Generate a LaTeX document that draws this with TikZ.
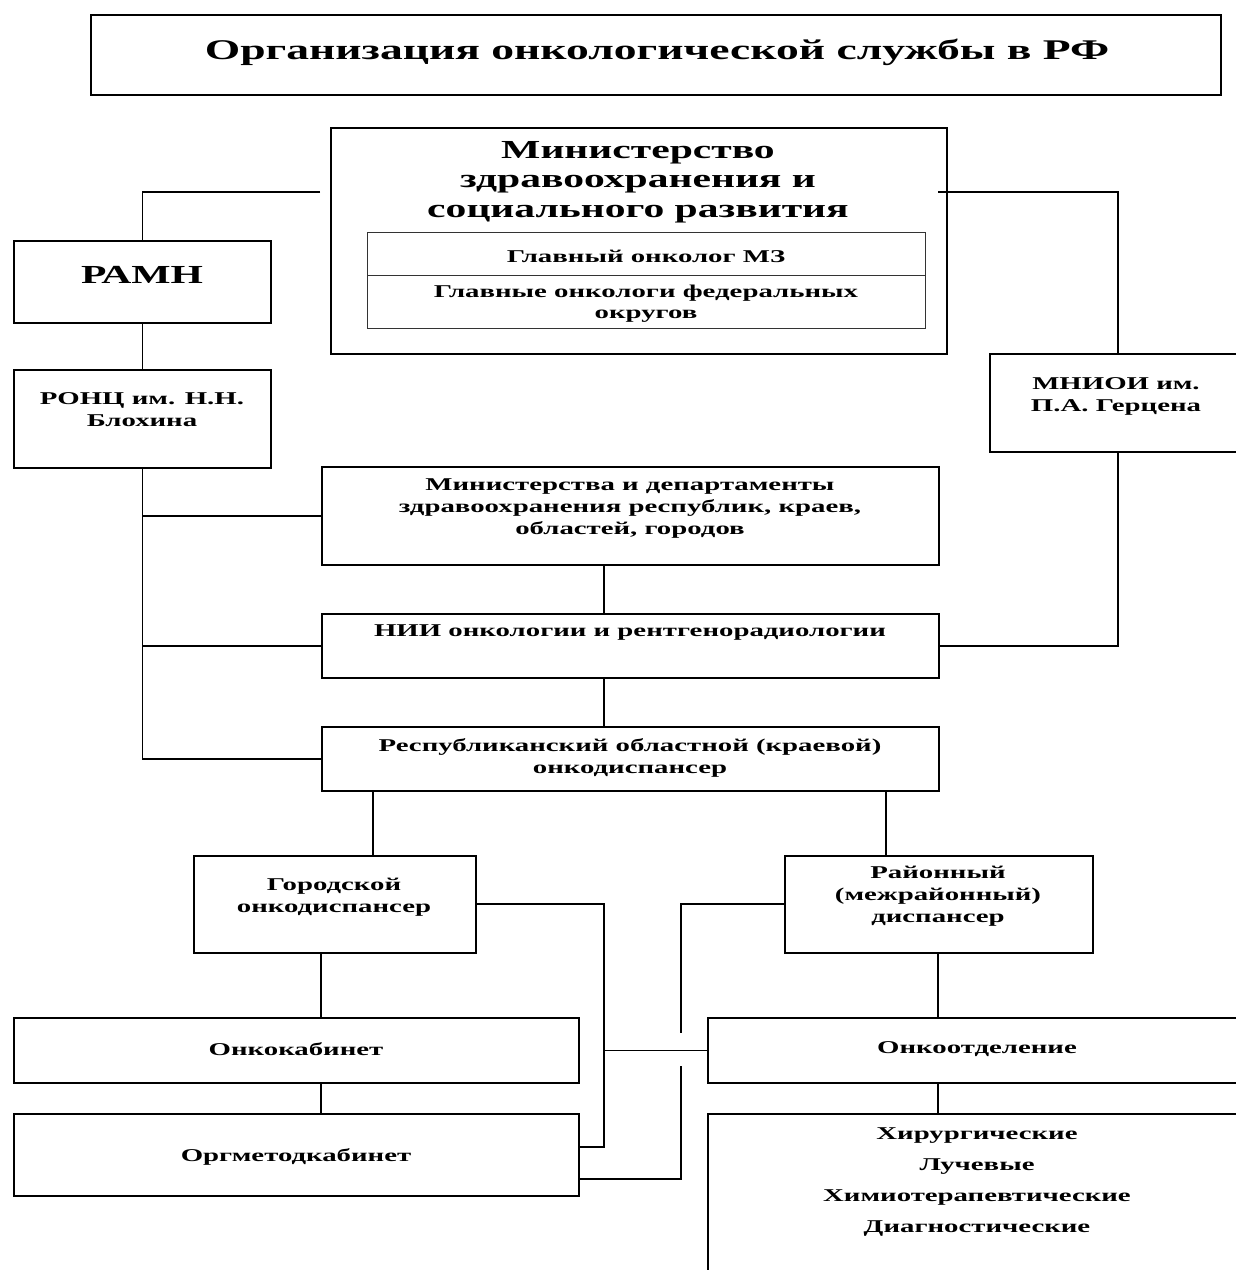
\documentclass[tikz,border=0pt]{standalone}
\usepackage{fontspec}
\setmainfont{Liberation Serif}[FakeStretch=1.6]
\begin{document}
\begin{tikzpicture}[x=1pt,y=-1pt,
  box/.style={draw, line width=1.7pt, inner sep=0pt, anchor=north west},
  cell/.style={draw, line width=0.8pt, draw=black!80, inner sep=0pt, anchor=north west},
  txt/.style={inner sep=0pt, align=center, font=\bfseries\fontsize{18}{22}\selectfont},
  link/.style={line width=1.7pt}]
\useasboundingbox (0,0) rectangle (1236,1270);
\clip (0,0) rectangle (1236,1270);
% title
\node[box, minimum width=1130, minimum height=80] (title) at (90,14) {};
\node[txt, font=\bfseries\fontsize{28.5}{34}\selectfont] (titletxt) at (657,52) {Организация онкологической службы в РФ};
% ministry
\node[box, minimum width=616, minimum height=226] (min) at (330,127) {};
\node[txt, font=\bfseries\fontsize{26}{29.5}\selectfont] (mintxt) at (638,182) {Министерство\\здравоохранения и\\социального развития};
\node[cell, minimum width=558, minimum height=43] (c1) at (367,232) {};
\node[cell, minimum width=558, minimum height=53] (c2) at (367,275) {};
\node[txt, font=\bfseries\fontsize{18}{21}\selectfont] (c1txt) at (646,256) {Главный онколог МЗ};
\node[txt, font=\bfseries\fontsize{18}{21}\selectfont] (c2txt) at (646,304) {Главные онкологи федеральных\\округов};
% left column
\node[box, minimum width=257, minimum height=82] (ramn) at (13,240) {};
\node[txt, font=\bfseries\fontsize{26}{29}\selectfont] (ramntxt) at (142,275) {РАМН};
\node[box, minimum width=257, minimum height=98] (ronc) at (13,369) {};
\node[txt] (ronctxt) at (142,410) {РОНЦ им. Н.Н.\\Блохина};
% right column
\node[box, minimum width=256, minimum height=98] (mnioi) at (989,353) {};
\node[txt] (mnioitxt) at (1116,396) {МНИОИ им.\\П.А. Герцена};
% middle chain
\node[box, minimum width=617, minimum height=98] (mindep) at (321,466) {};
\node[txt] (mindeptxt) at (630,509) {Министерства и департаменты\\здравоохранения республик, краев,\\областей, городов};
\node[box, minimum width=617, minimum height=64] (nii) at (321,613) {};
\node[txt] (niitxt) at (630,633) {НИИ онкологии и рентгенорадиологии};
\node[box, minimum width=617, minimum height=64] (resp) at (321,726) {};
\node[txt] (resptxt) at (630,758) {Республиканский областной (краевой)\\онкодиспансер};
% second level
\node[box, minimum width=282, minimum height=97] (gorod) at (193,855) {};
\node[txt] (gorodtxt) at (334,897) {Городской\\онкодиспансер};
\node[box, minimum width=308, minimum height=97] (raion) at (784,855) {};
\node[txt] (raiontxt) at (938,896) {Районный\\(межрайонный)\\диспансер};
% third level
\node[box, minimum width=565, minimum height=65] (onkokab) at (13,1017) {};
\node[txt] (onkokabtxt) at (296,1049) {Онкокабинет};
\node[box, minimum width=565, minimum height=82] (orgmet) at (13,1113) {};
\node[txt] (orgmettxt) at (296,1157) {Оргметодкабинет};
\node[box, minimum width=540, minimum height=65] (onkootd) at (707,1017) {};
\node[txt] (onkootdtxt) at (977,1049) {Онкоотделение};
\node[box, minimum width=540, minimum height=200] (otd) at (707,1113) {};
\node[txt, font=\bfseries\fontsize{18}{31}\selectfont] (otdtxt) at (977,1182) {Хирургические\\Лучевые\\Химиотерапевтические\\Диагностические};
% connectors
\coordinate (mleft) at (320,192);
\coordinate (mright) at (938,192);
\draw[link] (mleft) -| (ramn.north);
\draw[link] (mright) -| (mnioi.north);
\draw[link] (ramn.south) -- (ronc.north);
\draw[link] (ronc.south) |- (resp.west);
\draw[link] (ronc.south |- mindep.west) -- (mindep.west);
\draw[link] (ronc.south |- nii.west) -- (nii.west);
\draw[link] (nii.east) -| (mnioi.south);
\draw[link] (mindep.south -| 604,0) -- (nii.north -| 604,0);
\draw[link] (nii.south -| 604,0) -- (resp.north -| 604,0);
\draw[link] (resp.south -| 373,0) -- (gorod.north -| 373,0);
\draw[link] (resp.south -| 886,0) -- (raion.north -| 886,0);
\draw[link] (gorod.south -| 321,0) -- (onkokab.north -| 321,0);
\draw[link] (onkokab.south -| 321,0) -- (orgmet.north -| 321,0);
\draw[link] (raion.south -| 938,0) -- (onkootd.north -| 938,0);
\draw[link] (onkootd.south -| 938,0) -- (otd.north -| 938,0);
\coordinate (gtop) at (604,904);
\coordinate (gbot) at (604,1147);
\coordinate (rtop) at (681,904);
\coordinate (rgap1) at (681,1033);
\coordinate (rgap2) at (681,1066);
\coordinate (rbot) at (681,1179);
\draw[link] (gorod.east |- gtop) -- (gtop) -- (gbot) -- (orgmet.east |- gbot);
\draw[link] (gtop |- onkootd.west) -- (onkootd.west);
\draw[link] (raion.west |- rtop) -- (rtop) -- (rgap1);
\draw[link] (rgap2) -- (rbot) -- (orgmet.east |- rbot);
\end{tikzpicture}
\end{document}
